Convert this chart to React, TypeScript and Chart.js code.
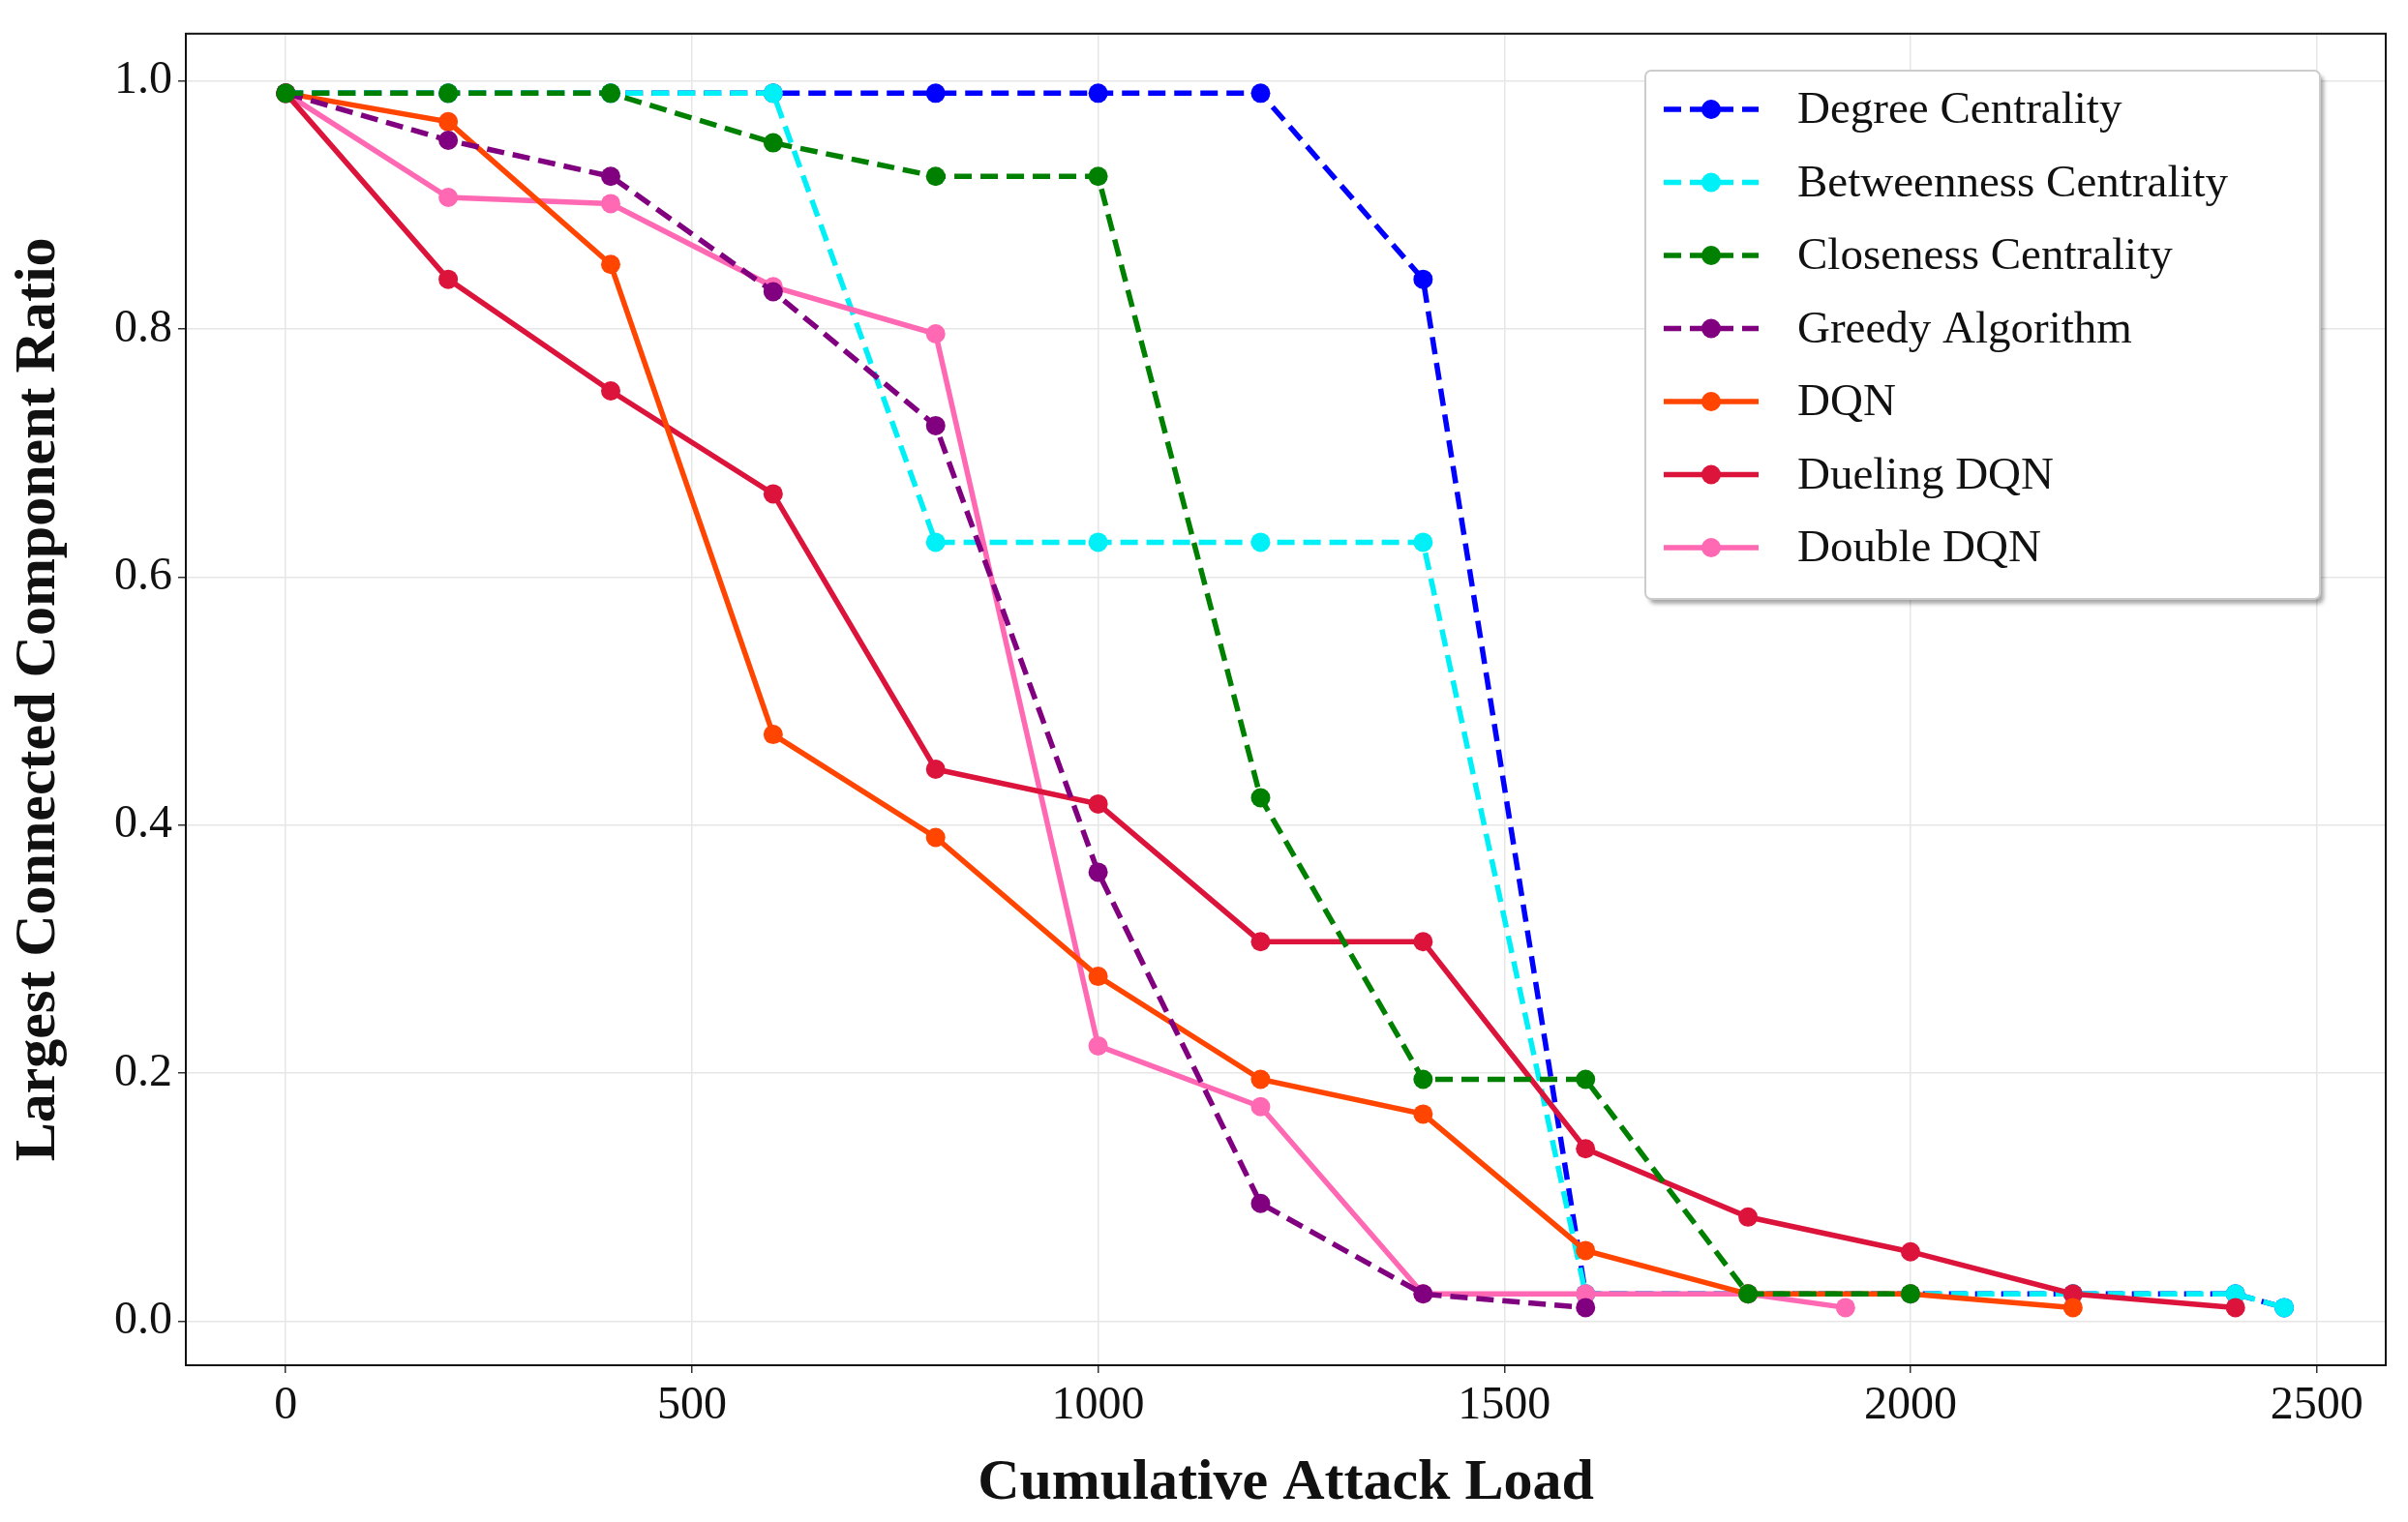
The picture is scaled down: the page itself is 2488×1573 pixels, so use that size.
import React, { useEffect, useRef } from "react";
import { Chart, registerables } from "chart.js";
Chart.register(...registerables);

const degreeX = [0, 200, 400, 600, 800, 1000, 1200, 1400, 1600, 1800, 2000, 2200, 2400, 2460];
const degreeY = [0.99, 0.99, 0.99, 0.99, 0.99, 0.99, 0.99, 0.84, 0.022, 0.022, 0.022, 0.022, 0.022, 0.011];
const betweenX = [0, 200, 400, 600, 800, 1000, 1200, 1400, 1600, 1800, 2000, 2200, 2400, 2460];
const betweenY = [0.99, 0.99, 0.99, 0.99, 0.628, 0.628, 0.628, 0.628, 0.022, 0.022, 0.022, 0.022, 0.022, 0.011];
const closeX = [0, 200, 400, 600, 800, 1000, 1200, 1400, 1600, 1800, 2000];
const closeY = [0.99, 0.99, 0.99, 0.95, 0.923, 0.923, 0.422, 0.195, 0.195, 0.022, 0.022];
const greedyX = [0, 200, 400, 600, 800, 1000, 1200, 1400, 1600];
const greedyY = [0.99, 0.952, 0.923, 0.83, 0.722, 0.362, 0.095, 0.022, 0.011];
const dqnX = [0, 200, 400, 600, 800, 1000, 1200, 1400, 1600, 1800, 2000, 2200];
const dqnY = [0.99, 0.967, 0.852, 0.473, 0.39, 0.278, 0.195, 0.167, 0.057, 0.022, 0.022, 0.011];
const duelX = [0, 200, 400, 600, 800, 1000, 1200, 1400, 1600, 1800, 2000, 2200, 2400];
const duelY = [0.99, 0.84, 0.75, 0.667, 0.445, 0.417, 0.306, 0.306, 0.139, 0.084, 0.056, 0.022, 0.011];
const doubleX = [0, 200, 400, 600, 800, 1000, 1200, 1400, 1600, 1800, 1920];
const doubleY = [0.99, 0.906, 0.901, 0.834, 0.796, 0.222, 0.173, 0.022, 0.022, 0.022, 0.011];
const xTicks = [0, 500, 1000, 1500, 2000, 2500];
const yTicks = [0, 0.2, 0.4, 0.6, 0.8, 1.0];

const FONT = "'Liberation Serif', serif";

const series = [
  { label: "Degree Centrality", xs: degreeX, ys: degreeY, color: "#0000ff", dash: true, order: 2 },
  { label: "Betweenness Centrality", xs: betweenX, ys: betweenY, color: "#00f0f8", dash: true, order: 1 },
  { label: "Closeness Centrality", xs: closeX, ys: closeY, color: "#008000", dash: true, order: 0 },
  { label: "Greedy Algorithm", xs: greedyX, ys: greedyY, color: "#800080", dash: true, order: 0 },
  { label: "DQN", xs: dqnX, ys: dqnY, color: "#ff4500", dash: false, order: 0 },
  { label: "Dueling DQN", xs: duelX, ys: duelY, color: "#dc143c", dash: false, order: 0 },
  { label: "Double DQN", xs: doubleX, ys: doubleY, color: "#ff69b4", dash: false, order: 0 },
];

const legendPlugin = {
  id: "customLegend",
  afterDraw(chart: any) {
    const ctx = chart.ctx;
    const x0 = 1700, y0 = 73, w = 697, h = 546;
    ctx.save();
    ctx.shadowColor = "rgba(0,0,0,0.35)";
    ctx.shadowOffsetX = 4;
    ctx.shadowOffsetY = 5;
    ctx.shadowBlur = 4;
    ctx.fillStyle = "#ffffff";
    ctx.beginPath();
    ctx.roundRect(x0, y0, w, h, 6);
    ctx.fill();
    ctx.shadowColor = "transparent";
    ctx.strokeStyle = "#cccccc";
    ctx.lineWidth = 2;
    ctx.stroke();
    ctx.font = `47px ${FONT}`;
    ctx.textBaseline = "middle";
    series.forEach((s, i) => {
      const y = 113 + i * 75.5;
      ctx.strokeStyle = s.color;
      ctx.lineWidth = 5.5;
      ctx.setLineDash(s.dash ? [18, 9] : []);
      ctx.beginPath();
      ctx.moveTo(1719, y);
      ctx.lineTo(1817, y);
      ctx.stroke();
      ctx.setLineDash([]);
      ctx.fillStyle = s.color;
      ctx.beginPath();
      ctx.arc(1768, y, 10, 0, Math.PI * 2);
      ctx.fill();
      ctx.fillStyle = "#111";
      ctx.fillText(s.label, 1857, y + 2);
    });
    ctx.restore();
  },
};

export default function App() {
  const ref = useRef<HTMLCanvasElement>(null);
  useEffect(() => {
    document.body.style.margin = "0";
    const chart = new Chart(ref.current!, {
      type: "line",
      data: {
        datasets: series.map((s) => ({
          label: s.label,
          order: s.order,
          data: s.xs.map((x, i) => ({ x, y: s.ys[i] })),
          borderColor: s.color,
          backgroundColor: s.color,
          borderWidth: 5.5,
          borderDash: s.dash ? [18, 9] : [],
          pointRadius: 10,
          pointBorderWidth: 0,
          tension: 0,
          fill: false,
        })),
      },
      options: {
        animation: false,
        responsive: false,
        layout: { padding: { top: 8, right: 23, left: 0, bottom: 0 } },
        plugins: { legend: { display: false }, tooltip: { enabled: false } },
        scales: {
          x: {
            type: "linear",
            min: -123,
            max: 2585,
            afterFit: (s: any) => { s.height = 162; },
            afterBuildTicks: (s: any) => { s.ticks = xTicks.map((v) => ({ value: v })); },
            ticks: { color: "#111", font: { family: FONT, size: 48 }, padding: 6, callback: (v: any) => String(v) },
            grid: { color: "#e6e6e6", lineWidth: 1.5, tickLength: 8, tickColor: "#333" },
            border: { color: "#111", width: 2 },
            title: { display: true, text: "Cumulative Attack Load", color: "#111", font: { family: FONT, size: 60, weight: "bold" }, padding: { top: 0 } },
          },
          y: {
            type: "linear",
            min: -0.0355,
            max: 1.038,
            afterFit: (s: any) => { s.width = 192; },
            afterBuildTicks: (s: any) => { s.ticks = yTicks.map((v) => ({ value: v })); },
            ticks: { color: "#111", font: { family: FONT, size: 48 }, padding: 6, callback: (v: any) => Number(v).toFixed(1) },
            grid: { color: "#e6e6e6", lineWidth: 1.5, tickLength: 8, tickColor: "#333" },
            border: { color: "#111", width: 2 },
            title: { display: true, text: "Largest Connected Component Ratio", color: "#111", font: { family: FONT, size: 60, weight: "bold" }, padding: { bottom: 2 } },
          },
        },
      },
      plugins: [
        legendPlugin,
        {
          id: "frame",
          afterDraw(c: any) {
            const { left, right, top, bottom } = c.chartArea;
            c.ctx.save();
            c.ctx.strokeStyle = "#111";
            c.ctx.lineWidth = 2;
            c.ctx.strokeRect(left, top, right - left, bottom - top);
            c.ctx.restore();
          },
        },
      ],
    } as any);
    return () => chart.destroy();
  }, []);
  return <canvas ref={ref} width={2488} height={1573} style={{ display: "block" }} />;
}
